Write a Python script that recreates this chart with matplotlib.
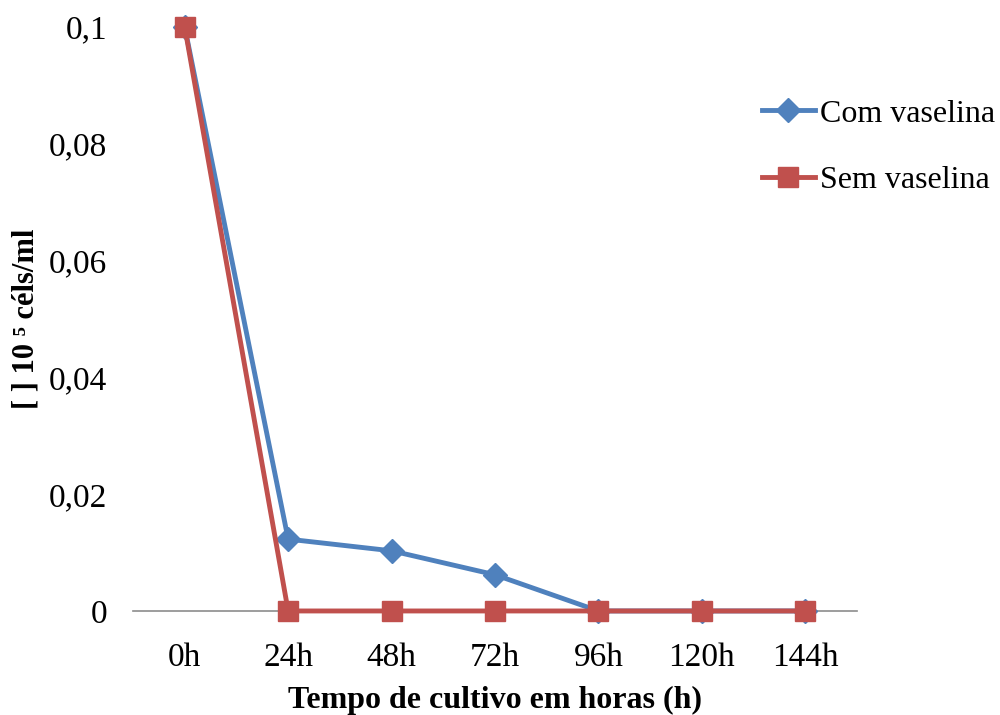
import matplotlib
matplotlib.use("Agg")
import matplotlib.pyplot as plt

plt.rcParams['font.family'] = ['Liberation Serif', 'DejaVu Serif']

categories = ["0h", "24h", "48h", "72h", "96h", "120h", "144h"]
com_vaselina = [0.1, 0.0123, 0.0103, 0.0062, 0.0, 0.0, 0.0]
sem_vaselina = [0.1, 0.0, 0.0, 0.0, 0.0, 0.0, 0.0]
yticks = [0, 0.02, 0.04, 0.06, 0.08, 0.1]
ytick_labels = ["0", "0,02", "0,04", "0,06", "0,08", "0,1"]

fig = plt.figure(figsize=(10, 7.15), dpi=100)
ax = fig.add_axes([0.133, 0.1455, 0.724, 0.8168])

x = list(range(len(categories)))
ax.plot(x, com_vaselina, color="#4F81BD", lw=3.5, marker="D", ms=12,
        clip_on=False, zorder=3, label="Com vaselina")
ax.plot(x, sem_vaselina, color="#C0504D", lw=3.5, marker="s", ms=14.5,
        clip_on=False, zorder=4, label="Sem vaselina")

ax.set_xlim(-0.5, len(categories) - 0.5)
ax.set_ylim(0, 0.1)
ax.set_xticks(x)
ax.set_xticklabels(categories, fontsize=24)
ax.set_yticks(yticks)
ax.set_yticklabels(ytick_labels, fontsize=24)
ax.tick_params(axis="both", length=0)
ax.tick_params(axis="y", pad=18.5)
ax.tick_params(axis="x", pad=23)

for side in ["top", "right", "left"]:
    ax.spines[side].set_visible(False)
ax.spines["bottom"].set_color("#8C8C8C")
ax.spines["bottom"].set_linewidth(1.2)
ax.spines["bottom"].set_zorder(1)

ax.set_xlabel("Tempo de cultivo em horas (h)", fontsize=23, fontweight="bold")
ax.xaxis.set_label_coords(0.5, -0.128)
ax.set_ylabel("[ ] 10 ⁵ céls/ml", fontsize=22, fontweight="bold")
ax.yaxis.set_label_coords(-0.128, 0.5)

ax.legend(loc="center left", bbox_to_anchor=(0.762, 0.7944),
          bbox_transform=fig.transFigure, frameon=False, fontsize=23,
          handlelength=1.65, handletextpad=0.15, labelspacing=1.15,
          borderpad=0, borderaxespad=0)

fig.savefig("out.png", dpi=100)
